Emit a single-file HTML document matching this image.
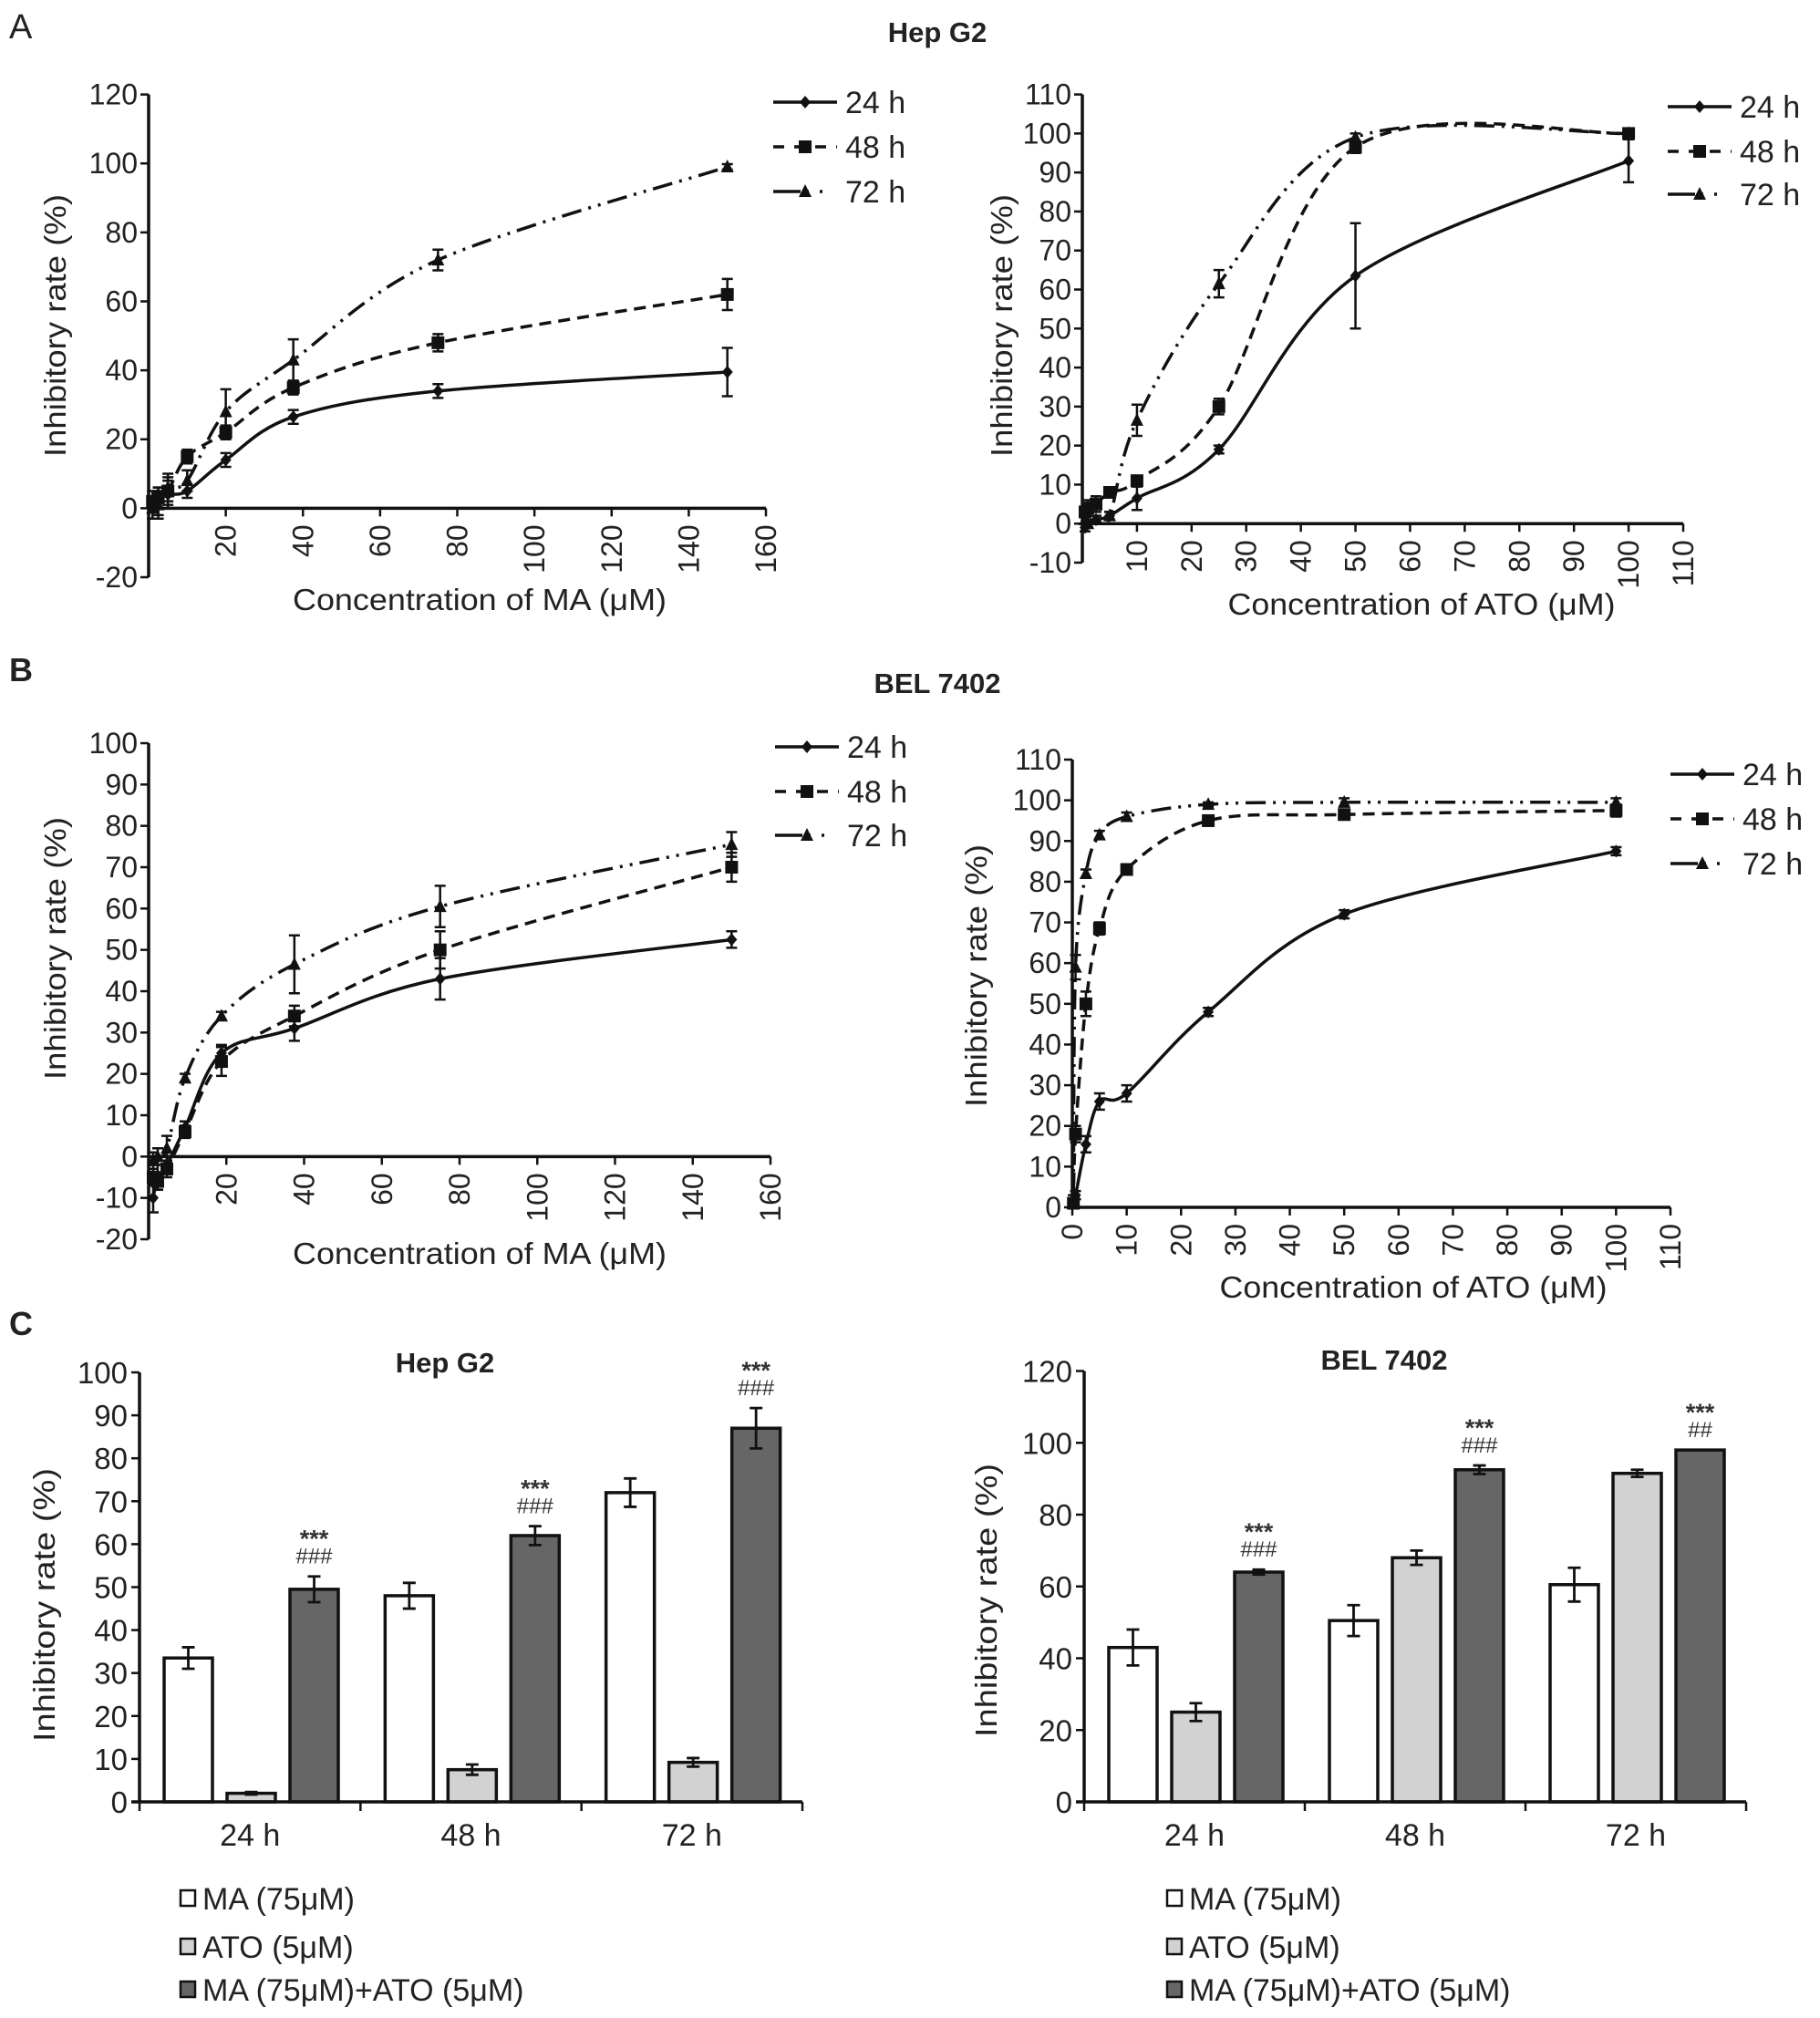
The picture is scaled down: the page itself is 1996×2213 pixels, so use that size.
<!DOCTYPE html>
<html><head><meta charset="utf-8"><title>Inhibitory rate figure</title>
<style>
html,body{margin:0;padding:0;background:#fff;}
svg{display:block;font-family:"Liberation Sans Narrow","Liberation Sans",Arial,sans-serif;}
</style></head>
<body>
<svg id="fig" width="1996" height="2213" viewBox="0 0 1996 2213" xmlns="http://www.w3.org/2000/svg">
<rect x="0" y="0" width="1996" height="2213" fill="#fff"/>
<text x="10" y="42" font-size="38" fill="#222">A</text>
<text x="1028" y="46" font-size="31" font-weight="bold" text-anchor="middle" fill="#222" font-family="Liberation Sans, sans-serif">Hep G2</text>
<text x="10" y="747" font-size="36" font-weight="bold" fill="#222" font-family="Liberation Sans, sans-serif">B</text>
<text x="1028" y="760" font-size="31" font-weight="bold" text-anchor="middle" fill="#222" font-family="Liberation Sans, sans-serif">BEL 7402</text>
<text x="10" y="1464" font-size="36" font-weight="bold" fill="#222" font-family="Liberation Sans, sans-serif">C</text>
<g id="charts"></g>
</svg>
<script>
// ---------- Panel A left: HepG2 MA ----------
const aLeftX = [1, 2.5, 5, 10, 20, 37.5, 75, 150];
const aLeft24 = [0, 2, 4, 5, 14, 26.5, 34, 39.5];
const aLeft24Err = [3, 4, 4, 2, 2, 2, 2, 7];
const aLeft48 = [2, 3, 5, 15, 22, 35, 48, 62];
const aLeft48Err = [3, 3, 4, 2, 2, 2, 2.5, 4.5];
const aLeft72 = [0, 1, 6, 8, 28, 43, 72, 99];
const aLeft72Err = [3, 4, 4, 3, 6.5, 6, 3, 0.8];
const aLeftYTicks = [-20, 0, 20, 40, 60, 80, 100, 120];
const aLeftXTicks = [20, 40, 60, 80, 100, 120, 140, 160];
// ---------- Panel A right: HepG2 ATO ----------
const aRightX = [0.5, 1, 2.5, 5, 10, 25, 50, 100];
const aRight24 = [-1, 0, 1, 2, 6.5, 19, 63.5, 93];
const aRight24Err = [1, 1, 1, 1, 3, 1, 13.5, 5.5];
const aRight48 = [3, 4, 5, 8, 11, 30, 96.5, 100];
const aRight48Err = [1, 2, 2, 1, 1, 2, 1.5, 1];
const aRight72 = [1, 0, 1, 2, 26.5, 61.5, 99, 100];
const aRight72Err = [1, 1, 1, 1, 4, 3.5, 1, 0.5];
const aRightYTicks = [-10, 0, 10, 20, 30, 40, 50, 60, 70, 80, 90, 100, 110];
const aRightXTicks = [10, 20, 30, 40, 50, 60, 70, 80, 90, 100, 110];
// ---------- Panel B left: BEL7402 MA ----------
const bLeftX = [1.17, 2.34, 4.69, 9.375, 18.75, 37.5, 75, 150];
const bLeft24 = [-10, -5, -2, 7, 25, 31, 43, 52.5];
const bLeft24Err = [3.5, 3, 2, 1.5, 2, 3, 5, 2];
const bLeft48 = [-5, -6, -3, 6, 23, 34, 50, 70];
const bLeft48Err = [2, 2, 2, 1.5, 3.5, 2.5, 4.5, 3.5];
const bLeft72 = [-1, 0, 2, 19, 34, 46.5, 60.5, 75.5];
const bLeft72Err = [2, 2, 3, 1, 1, 7, 5, 3];
const bLeftYTicks = [-20, -10, 0, 10, 20, 30, 40, 50, 60, 70, 80, 90, 100];
const bLeftXTicks = [20, 40, 60, 80, 100, 120, 140, 160];
// ---------- Panel B right: BEL7402 ATO ----------
const bRightX = [0.2, 0.6, 2.5, 5, 10, 25, 50, 100];
const bRight24 = [1, 3, 15.5, 26, 28, 48, 72, 87.5];
const bRight24Err = [1, 1, 2, 2, 2, 1, 1, 1];
const bRight48 = [1, 18, 50, 68.5, 83, 95, 96.5, 97.5];
const bRight48Err = [1, 2, 3, 1.5, 1, 1, 1, 1.5];
const bRight72 = [2, 59, 82, 91.5, 96, 99, 99.5, 99.5];
const bRight72Err = [1, 3, 1, 1, 1, 0.5, 1, 1];
const bRightYTicks = [0, 10, 20, 30, 40, 50, 60, 70, 80, 90, 100, 110];
const bRightXTicks = [0, 10, 20, 30, 40, 50, 60, 70, 80, 90, 100, 110];
// ---------- Panel C bars ----------
const barCategories = ['24 h', '48 h', '72 h'];
const barSeriesNames = ['MA (75μM)', 'ATO (5μM)', 'MA (75μM)+ATO (5μM)'];
const hepMA = [33.5, 48, 72];
const hepMAErr = [2.5, 3, 3.3];
const hepATO = [2, 7.5, 9.2];
const hepATOErr = [0.3, 1.2, 1];
const hepCombo = [49.5, 62, 87];
const hepComboErr = [3, 2.2, 4.7];
const hepStars = ['***', '***', '***'];
const hepHash = ['###', '###', '###'];
const hepYTicks = [0, 10, 20, 30, 40, 50, 60, 70, 80, 90, 100];
const belMA = [43, 50.5, 60.5];
const belMAErr = [5, 4.3, 4.7];
const belATO = [25, 68, 91.5];
const belATOErr = [2.5, 2, 1];
const belCombo = [64, 92.5, 98];
const belComboErr = [0.7, 1.2, 0];
const belStars = ['***', '***', '***'];
const belHash = ['###', '###', '##'];
const belYTicks = [0, 20, 40, 60, 80, 100, 120];

const NS = 'http://www.w3.org/2000/svg';
const root = document.getElementById('charts');
function mk(tag, attrs, parent) {
  const e = document.createElementNS(NS, tag);
  for (const k in attrs) e.setAttribute(k, attrs[k]);
  (parent || root).appendChild(e);
  return e;
}
function smoothPath(pts) {
  let d = 'M' + pts[0][0] + ',' + pts[0][1];
  for (let i = 0; i < pts.length - 1; i++) {
    const p0 = pts[Math.max(0, i - 1)], p1 = pts[i], p2 = pts[i + 1], p3 = pts[Math.min(pts.length - 1, i + 2)];
    const t = 1 / 6;
    const c1x = p1[0] + (p2[0] - p0[0]) * t, c1y = p1[1] + (p2[1] - p0[1]) * t;
    const c2x = p2[0] - (p3[0] - p1[0]) * t, c2y = p2[1] - (p3[1] - p1[1]) * t;
    d += ' C' + c1x + ',' + c1y + ' ' + c2x + ',' + c2y + ' ' + p2[0] + ',' + p2[1];
  }
  return d;
}
function marker(g, kind, x, y) {
  let m;
  if (kind === 0) m = mk('path', {d: `M${x},${y-7} L${x+6},${y} L${x},${y+7} L${x-6},${y} Z`, fill: '#111'}, g);
  else if (kind === 1) m = mk('rect', {x: x-7, y: y-7, width: 14, height: 14, fill: '#111'}, g);
  else m = mk('path', {d: `M${x},${y-8} L${x+7},${y+6} L${x-7},${y+6} Z`, fill: '#111'}, g);
  return m;
}
const dashes = ['none', '13 8', '22 8 3 8 3 8'];
const serNames = ['24 h', '48 h', '72 h'];

function lineChart(cfg) {
  const g = mk('g', {});
  
  
  const sx = v => cfg.x0 + (v - cfg.xmin) / (cfg.xmax - cfg.xmin) * (cfg.x1 - cfg.x0);
  const sy = v => cfg.yBot + (v - cfg.ymin) / (cfg.ymax - cfg.ymin) * (cfg.yTop - cfg.yBot);
  const yAx = mk('line', {x1: cfg.x0, y1: sy(cfg.ymin), x2: cfg.x0, y2: sy(cfg.ymax), stroke: '#111', 'stroke-width': 3.5}, g);
  
  
  cfg.yTicks.forEach(t => {
    mk('line', {x1: cfg.x0 - 9, y1: sy(t), x2: cfg.x0, y2: sy(t), stroke: '#111', 'stroke-width': 2.5}, g);
    const tl = mk('text', {x: cfg.x0 - 12, y: sy(t) + 11, 'font-size': 32, 'text-anchor': 'end', fill: '#222'}, g);
    
    
    tl.textContent = t;
  });
  const y0 = sy(0);
  const xAx = mk('line', {x1: cfg.x0, y1: y0, x2: sx(cfg.xmax), y2: y0, stroke: '#111', 'stroke-width': 3.5}, g);
  
  
  cfg.xTicks.forEach(t => {
    mk('line', {x1: sx(t), y1: y0, x2: sx(t), y2: y0 + 9, stroke: '#111', 'stroke-width': 2.5}, g);
    const tl = mk('text', {x: 0, y: 0, 'font-size': 32, 'text-anchor': 'end', fill: '#222',
      transform: `translate(${sx(t) + 11},${y0 + 18}) rotate(-90)`}, g);
    
    
    tl.textContent = t;
  });
  const xl = mk('text', {x: cfg.xlx, y: cfg.xly, 'font-size': 33, 'text-anchor': 'middle', fill: '#222', textLength: cfg.xlw, lengthAdjust: 'spacingAndGlyphs'}, g);
  
  
  xl.textContent = cfg.xlabel;
  const yl = mk('text', {x: 0, y: 0, 'font-size': 33, 'text-anchor': 'middle', fill: '#222', textLength: 288, lengthAdjust: 'spacingAndGlyphs',
    transform: `translate(${cfg.ylx},${cfg.yly}) rotate(-90)`}, g);
  
  
  yl.textContent = 'Inhibitory rate (%)';
  cfg.series.forEach((s, si) => {
    const sg = mk('g', {}, g);
    
    
    const pts = cfg.xs.map((x, i) => [sx(x), sy(s.v[i])]);
    const p = mk('path', {d: smoothPath(pts), fill: 'none', stroke: '#111', 'stroke-width': 3.5, 'stroke-dasharray': dashes[si]}, sg);
    
    
    cfg.xs.forEach((x, i) => {
      const px = sx(x), t = sy(s.v[i] + s.e[i]), b = sy(s.v[i] - s.e[i]);
      const eb = mk('path', {d: `M${px},${t} L${px},${b} M${px-6},${t} L${px+6},${t} M${px-6},${b} L${px+6},${b}`, stroke: '#111', 'stroke-width': 2.5, fill: 'none'}, sg);
      
      
      const m = marker(sg, si, px, sy(s.v[i]));
      
      
    });
  });
  cfg.legY.forEach((ly, si) => {
    const lg = mk('g', {}, g);
    
    
    mk('line', {x1: cfg.legX, y1: ly, x2: cfg.legX + 70, y2: ly, stroke: '#111', 'stroke-width': 3.5, 'stroke-dasharray': si === 1 ? '12 11' : (si === 2 ? '30 6 3 12 3 50' : 'none')}, lg);
    marker(lg, si, cfg.legX + 35, ly);
    const t = mk('text', {x: cfg.legX + 79, y: ly + 12, 'font-size': 34, fill: '#222'}, lg);
    t.textContent = serNames[si];
  });
}

lineChart({name: 'hepg2-ma-chart', x0: 163, x1: 840, xmin: 0, xmax: 160, yTop: 103.6, yBot: 633, ymin: -20, ymax: 120,
  xs: aLeftX, yTicks: aLeftYTicks, xTicks: aLeftXTicks,
  series: [{v: aLeft24, e: aLeft24Err}, {v: aLeft48, e: aLeft48Err}, {v: aLeft72, e: aLeft72Err}],
  xlabel: 'Concentration of MA (μM)', xlx: 526, xly: 669, xlw: 410, ylx: 72, yly: 357,
  legX: 848, legY: [112, 161, 210]});
lineChart({name: 'hepg2-ato-chart', x0: 1187, x1: 1846, xmin: 0, xmax: 110, yTop: 103.6, yBot: 617, ymin: -10, ymax: 110,
  xs: aRightX, yTicks: aRightYTicks, xTicks: aRightXTicks,
  series: [{v: aRight24, e: aRight24Err}, {v: aRight48, e: aRight48Err}, {v: aRight72, e: aRight72Err}],
  xlabel: 'Concentration of ATO (μM)', xlx: 1559, xly: 674, xlw: 425, ylx: 1110, yly: 357,
  legX: 1829, legY: [117, 166, 213]});
lineChart({name: 'bel7402-ma-chart', x0: 163, x1: 845, xmin: 0, xmax: 160, yTop: 815, yBot: 1359, ymin: -20, ymax: 100,
  xs: bLeftX, yTicks: bLeftYTicks, xTicks: bLeftXTicks,
  series: [{v: bLeft24, e: bLeft24Err}, {v: bLeft48, e: bLeft48Err}, {v: bLeft72, e: bLeft72Err}],
  xlabel: 'Concentration of MA (μM)', xlx: 526, xly: 1386, xlw: 410, ylx: 72, yly: 1040,
  legX: 850, legY: [819, 868, 916]});
lineChart({name: 'bel7402-ato-chart', x0: 1176, x1: 1832, xmin: 0, xmax: 110, yTop: 833, yBot: 1324, ymin: 0, ymax: 110,
  xs: bRightX, yTicks: bRightYTicks, xTicks: bRightXTicks,
  series: [{v: bRight24, e: bRight24Err}, {v: bRight48, e: bRight48Err}, {v: bRight72, e: bRight72Err}],
  xlabel: 'Concentration of ATO (μM)', xlx: 1550, xly: 1423, xlw: 425, ylx: 1082, yly: 1070,
  legX: 1832, legY: [849, 898, 947]});

const fills = ['#ffffff', '#d2d2d2', '#666666'];
function barChart(cfg) {
  const g = mk('g', {});
  
  
  const sy = v => cfg.yBot + v / cfg.ymax * (cfg.yTop - cfg.yBot);
  const gw = (cfg.x1 - cfg.x0) / barCategories.length;
  const yAx = mk('line', {x1: cfg.x0, y1: cfg.yBot, x2: cfg.x0, y2: cfg.yTop, stroke: '#111', 'stroke-width': 3.5}, g);
  
  
  cfg.yTicks.forEach(t => {
    mk('line', {x1: cfg.x0 - 9, y1: sy(t), x2: cfg.x0, y2: sy(t), stroke: '#111', 'stroke-width': 2.5}, g);
    const tl = mk('text', {x: cfg.x0 - 13, y: sy(t) + 12, 'font-size': 33, 'text-anchor': 'end', fill: '#222'}, g);
    
    
    tl.textContent = t;
  });
  const yl = mk('text', {x: 0, y: 0, 'font-size': 33, 'text-anchor': 'middle', fill: '#222', textLength: 300, lengthAdjust: 'spacingAndGlyphs',
    transform: `translate(${cfg.ylx},${cfg.yly}) rotate(-90)`}, g);
  
  
  yl.textContent = 'Inhibitory rate (%)';
  const tt = mk('text', {x: cfg.tx, y: cfg.ty, 'font-size': 31, 'font-weight': 'bold', 'text-anchor': 'middle', fill: '#222', 'font-family': 'Liberation Sans, sans-serif'}, g);
  
  
  tt.textContent = cfg.title;
  barCategories.forEach((c, ci) => {
    const gx = cfg.x0 + ci * gw;
    cfg.series.forEach((s, si) => {
      const bx = gx + 27 + si * 69, v = s.v[ci];
      const r = mk('rect', {x: bx, y: sy(v), width: 53, height: cfg.yBot - sy(v), fill: fills[si], stroke: '#111', 'stroke-width': 3.5}, g);
      
      
      const cx = bx + 26.5, t = sy(v + s.e[ci]), b = sy(v - s.e[ci]);
      if (s.e[ci] > 0) {
        const eb = mk('path', {d: `M${cx},${t} L${cx},${b} M${cx-7},${t} L${cx+7},${t} M${cx-7},${b} L${cx+7},${b}`, stroke: '#111', 'stroke-width': 2.8, fill: 'none'}, g);
        
        
      }
      if (si === 2) {
        const s1 = mk('text', {x: cx, y: t - 32, 'font-size': 27, 'text-anchor': 'middle', fill: '#333', 'font-weight': 'bold'}, g);
        
        
        s1.textContent = cfg.stars[ci];
        const s2 = mk('text', {x: cx, y: t - 14, 'font-size': 24, 'text-anchor': 'middle', fill: '#333'}, g);
        
        
        s2.textContent = cfg.hash[ci];
      }
    });
    const cl = mk('text', {x: gx + gw / 2, y: cfg.yBot + 48, 'font-size': 34, 'text-anchor': 'middle', fill: '#222'}, g);
    
    
    cl.textContent = c;
    mk('line', {x1: gx + gw, y1: cfg.yBot, x2: gx + gw, y2: cfg.yBot + 10, stroke: '#111', 'stroke-width': 2.5}, g);
  });
  mk('line', {x1: cfg.x0, y1: cfg.yBot, x2: cfg.x0, y2: cfg.yBot + 10, stroke: '#111', 'stroke-width': 2.5}, g);
  const xAx = mk('line', {x1: cfg.x0 - 9, y1: cfg.yBot, x2: cfg.x1, y2: cfg.yBot, stroke: '#111', 'stroke-width': 3.5}, g);
  
  
  const legY = [2082, 2135, 2182];
  barSeriesNames.forEach((n, si) => {
    const lg = mk('g', {}, g);
    
    
    mk('rect', {x: cfg.legX, y: legY[si] - 9, width: 16, height: 17, fill: fills[si], stroke: '#111', 'stroke-width': 2.5}, lg);
    const t = mk('text', {x: cfg.legX + 24, y: legY[si] + 12, 'font-size': 34, fill: '#222'}, lg);
    t.textContent = n;
  });
}
barChart({name: 'hepg2-bar-chart', title: 'Hep G2', tx: 488, ty: 1505, x0: 153, x1: 880, yTop: 1505, yBot: 1976, ymax: 100,
  yTicks: hepYTicks, ylx: 60, yly: 1760, legX: 198,
  series: [{v: hepMA, e: hepMAErr}, {v: hepATO, e: hepATOErr}, {v: hepCombo, e: hepComboErr}],
  stars: hepStars, hash: hepHash});
barChart({name: 'bel7402-bar-chart', title: 'BEL 7402', tx: 1518, ty: 1502, x0: 1189, x1: 1915, yTop: 1503.5, yBot: 1976, ymax: 120,
  yTicks: belYTicks, ylx: 1093, yly: 1755, legX: 1280,
  series: [{v: belMA, e: belMAErr}, {v: belATO, e: belATOErr}, {v: belCombo, e: belComboErr}],
  stars: belStars, hash: belHash});
</script>
</body></html>
